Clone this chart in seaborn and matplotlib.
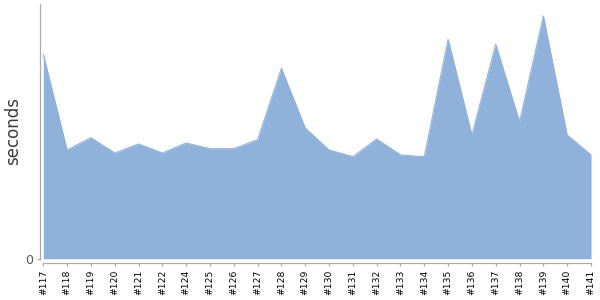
import matplotlib
matplotlib.use("Agg")
import matplotlib.pyplot as plt
import seaborn as sns
import pandas as pd

builds = ["#117", "#118", "#119", "#120", "#121", "#122", "#124", "#125", "#126",
          "#127", "#128", "#129", "#130", "#131", "#132", "#133", "#134", "#135",
          "#136", "#137", "#138", "#139", "#140", "#141"]
seconds = [204.4, 108.7, 121.0, 105.7, 114.7, 105.7, 115.7, 110.0, 110.0,
           119.0, 190.4, 130.7, 108.7, 102.0, 119.7, 103.7, 102.0, 219.4,
           123.7, 214.4, 137.0, 242.7, 123.7, 103.7]

df = pd.DataFrame({"build": builds, "seconds": seconds})
df["pos"] = range(len(df))

sns.set_style("white")
fig = plt.figure(figsize=(6, 3), dpi=100)
ax = fig.add_axes([43.3 / 600, 1 - 258.7 / 300, (591 - 43.3) / 600, (258.7 - 4) / 300])

fill_color = "#8fb1da"
ax.fill_between(df["pos"], 0, df["seconds"], color=fill_color, linewidth=0)
sns.lineplot(data=df, x="pos", y="seconds", ax=ax, color=fill_color, linewidth=0.8)

for s in ["top", "right"]:
    ax.spines[s].set_visible(False)
for s in ["left", "bottom"]:
    ax.spines[s].set_color("#aaaaaa")
    ax.spines[s].set_linewidth(0.9)
ax.spines["bottom"].set_position(("outward", 3.3))
ax.spines["left"].set_position(("outward", 2.7))
ax.tick_params(axis="x", which="both", length=2.4, width=0.9, color="#aaaaaa", pad=2.3, bottom=True)
ax.tick_params(axis="y", which="both", length=2.4, width=0.9, color="#aaaaaa", pad=2, left=True)
ax.grid(False)

ax.set_xlim(0, len(df) - 1)
ax.set_ylim(0, 254.7)
ax.set_xticks(df["pos"])
ax.set_xticklabels(df["build"], fontsize=6.7, color="black")
plt.setp(ax.get_xticklabels(), rotation=90, va="top", ha="center")
ax.set_yticks([0])
ax.set_yticklabels(["0"], fontsize=9, color="#555555")
ax.set_xlabel("")
ax.set_ylabel("seconds", fontsize=12, color="#3a3a3a")
ax.yaxis.set_label_coords(-0.038, 0.5)

fig.savefig("out.png", dpi=100)
